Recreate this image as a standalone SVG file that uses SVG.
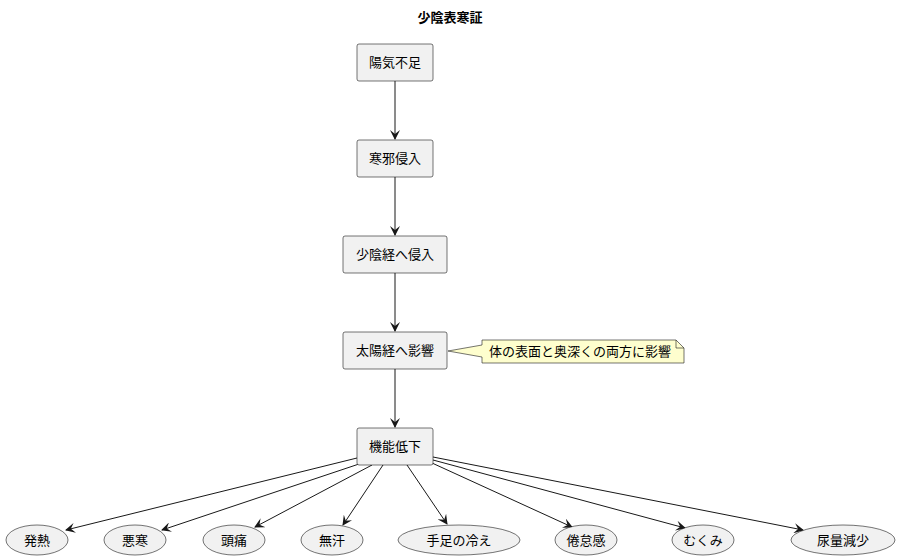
<svg xmlns="http://www.w3.org/2000/svg" width="900" height="560" viewBox="0 0 900 560">
<style>
text{font-family:"Liberation Sans","Noto Sans CJK JP",sans-serif;font-size:13px;fill:#000}
.b{fill:#f1f1f1;stroke:#181818;stroke-width:0.6}
.c line{stroke:#181818;stroke-width:1}
</style>
<defs><marker id="a" viewBox="0 0 10 10" refX="9" refY="5" markerWidth="10" markerHeight="10" markerUnits="userSpaceOnUse" orient="auto"><path d="M0,0 L10,5 L0,10 L4,5 Z" fill="#181818"/></marker></defs>
<rect width="900" height="560" fill="#fff"/>
<text x="450" y="22" text-anchor="middle" font-weight="bold">少陰表寒証</text>
<g class="c">
<line x1="395" y1="81" x2="395" y2="139" marker-end="url(#a)"/>
<line x1="395" y1="177" x2="395" y2="235" marker-end="url(#a)"/>
<line x1="395" y1="273" x2="395" y2="331" marker-end="url(#a)"/>
<line x1="395" y1="369" x2="395" y2="427" marker-end="url(#a)"/>
<line x1="357" y1="458" x2="66" y2="530" marker-end="url(#a)"/>
<line x1="362" y1="463" x2="162" y2="530" marker-end="url(#a)"/>
<line x1="372" y1="465" x2="255" y2="527" marker-end="url(#a)"/>
<line x1="383" y1="465" x2="343" y2="525" marker-end="url(#a)"/>
<line x1="407" y1="465" x2="447" y2="524" marker-end="url(#a)"/>
<line x1="432" y1="463" x2="572" y2="527" marker-end="url(#a)"/>
<line x1="433" y1="460" x2="685" y2="528" marker-end="url(#a)"/>
<line x1="433" y1="457" x2="803" y2="530" marker-end="url(#a)"/>
</g>
<g id="n1"><rect class="b" x="357" y="44" width="76" height="37" rx="2"/><text x="395" y="67" text-anchor="middle">陽気不足</text></g>
<g id="n2"><rect class="b" x="357" y="140" width="76" height="37" rx="2"/><text x="395" y="163" text-anchor="middle">寒邪侵入</text></g>
<g id="n3"><rect class="b" x="343" y="236" width="104" height="37" rx="2"/><text x="395" y="259" text-anchor="middle">少陰経へ侵入</text></g>
<g id="n4"><rect class="b" x="343" y="332" width="104" height="37" rx="2"/><text x="395" y="355" text-anchor="middle">太陽経へ影響</text></g>
<g id="note"><path d="M482,340 H676 L684,348 V363 H482 V357 L448,351 L482,345 Z" fill="#fefece" stroke="#181818" stroke-width="0.6"/><path d="M676,340 V348 H684" fill="none" stroke="#181818" stroke-width="0.6"/><text x="489" y="356">体の表面と奥深くの両方に影響</text></g>
<g id="n5"><rect class="b" x="357" y="428" width="76" height="37" rx="2"/><text x="395" y="451" text-anchor="middle">機能低下</text></g>
<g id="e1"><ellipse class="b" cx="37" cy="540" rx="31" ry="15"/><text x="37" y="545" text-anchor="middle">発熱</text></g>
<g id="e2"><ellipse class="b" cx="135" cy="540" rx="31" ry="15"/><text x="135" y="545" text-anchor="middle">悪寒</text></g>
<g id="e3"><ellipse class="b" cx="234" cy="540" rx="31" ry="15"/><text x="234" y="545" text-anchor="middle">頭痛</text></g>
<g id="e4"><ellipse class="b" cx="332" cy="540" rx="31" ry="15"/><text x="332" y="545" text-anchor="middle">無汗</text></g>
<g id="e5"><ellipse class="b" cx="459" cy="540" rx="61" ry="15"/><text x="459" y="545" text-anchor="middle">手足の冷え</text></g>
<g id="e6"><ellipse class="b" cx="586" cy="540" rx="31" ry="15"/><text x="586" y="545" text-anchor="middle">倦怠感</text></g>
<g id="e7"><ellipse class="b" cx="703" cy="540" rx="31" ry="15"/><text x="703" y="545" text-anchor="middle">むくみ</text></g>
<g id="e8"><ellipse class="b" cx="843" cy="540" rx="52" ry="15"/><text x="843" y="545" text-anchor="middle">尿量減少</text></g>
</svg>
